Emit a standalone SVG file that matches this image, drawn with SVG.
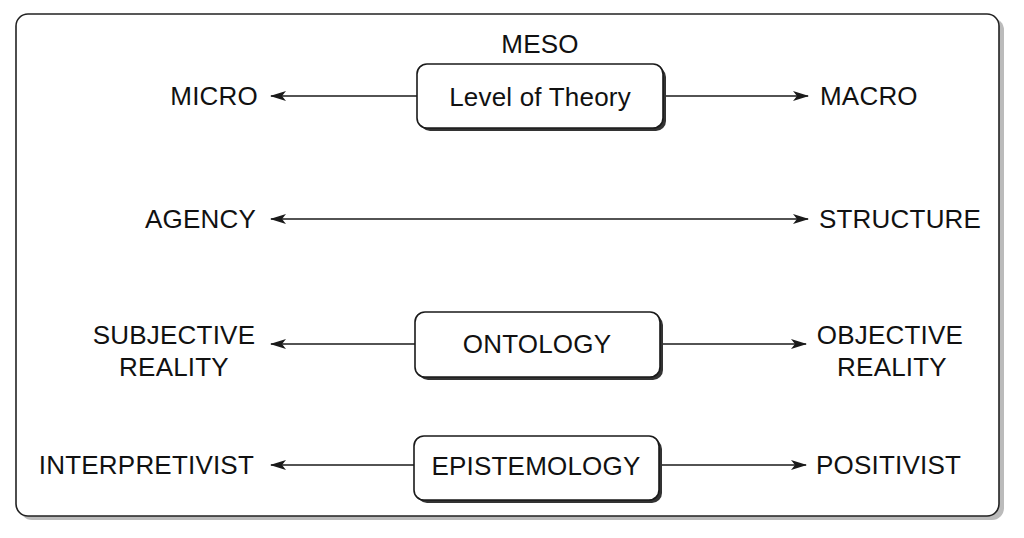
<svg xmlns="http://www.w3.org/2000/svg" width="1024" height="538" viewBox="0 0 1024 538">
<defs>
<style>
text{font-family:"Liberation Sans",Arial,sans-serif;font-size:26px;letter-spacing:0.2px;fill:#111;}
.c{text-anchor:middle}
.r{text-anchor:end}
.box{fill:#fff;stroke:#1a1a1a;stroke-width:1.6}
.sh{fill:#333}
.ln{stroke:#1a1a1a;stroke-width:1.5;fill:none}
</style>
<marker id="ah" viewBox="0 0 16 10" refX="15" refY="5" markerWidth="16" markerHeight="10" markerUnits="userSpaceOnUse" orient="auto-start-reverse">
<path d="M0,0 L16,5 L0,10 L4,5 Z" fill="#1a1a1a"/>
</marker>
</defs>
<rect width="1024" height="538" fill="#fff"/>
<g id="frame">
<rect x="20" y="18" width="984" height="502" rx="12" fill="#bbb"/>
<rect x="16" y="14" width="983" height="502" rx="12" fill="#fff" stroke="#222" stroke-width="1.6"/>
</g>
<g id="connectors">
<line class="ln" x1="417" y1="96" x2="271" y2="96" marker-end="url(#ah)"/>
<line class="ln" x1="663" y1="96" x2="808" y2="96" marker-end="url(#ah)"/>
<line class="ln" x1="271" y1="219" x2="808" y2="219" marker-start="url(#ah)" marker-end="url(#ah)"/>
<line class="ln" x1="415" y1="344" x2="271" y2="344" marker-end="url(#ah)"/>
<line class="ln" x1="660" y1="344" x2="806" y2="344" marker-end="url(#ah)"/>
<line class="ln" x1="414" y1="465" x2="271" y2="465" marker-end="url(#ah)"/>
<line class="ln" x1="659" y1="465" x2="806" y2="465" marker-end="url(#ah)"/>
</g>
<g id="level">
<rect class="sh" x="420" y="67" width="246" height="64" rx="10"/>
<rect class="box" x="417" y="64" width="246" height="64" rx="10"/>
<text class="c" x="540" y="106">Level of Theory</text>
</g>
<g id="meso"><text class="c" x="540" y="53">MESO</text></g>
<g id="micro"><text class="r" x="258" y="105">MICRO</text></g>
<g id="macro"><text x="820" y="105">MACRO</text></g>
<g id="agency"><text class="r" x="256" y="228">AGENCY</text></g>
<g id="structure"><text x="819" y="228">STRUCTURE</text></g>
<g id="ontology">
<rect class="sh" x="418" y="315" width="245" height="65" rx="10"/>
<rect class="box" x="415" y="312" width="245" height="65" rx="10"/>
<text class="c" x="537" y="353">ONTOLOGY</text>
</g>
<g id="subjective">
<text class="c" x="174" y="344">SUBJECTIVE</text>
<text class="c" x="174" y="376">REALITY</text>
</g>
<g id="objective">
<text class="c" x="890" y="344">OBJECTIVE</text>
<text class="c" x="892" y="376">REALITY</text>
</g>
<g id="epistemology">
<rect class="sh" x="417" y="439" width="245" height="64" rx="10"/>
<rect class="box" x="414" y="436" width="245" height="64" rx="10"/>
<text class="c" x="536" y="475">EPISTEMOLOGY</text>
</g>
<g id="interpretivist"><text class="r" x="254" y="474">INTERPRETIVIST</text></g>
<g id="positivist"><text x="816" y="474">POSITIVIST</text></g>
</svg>
